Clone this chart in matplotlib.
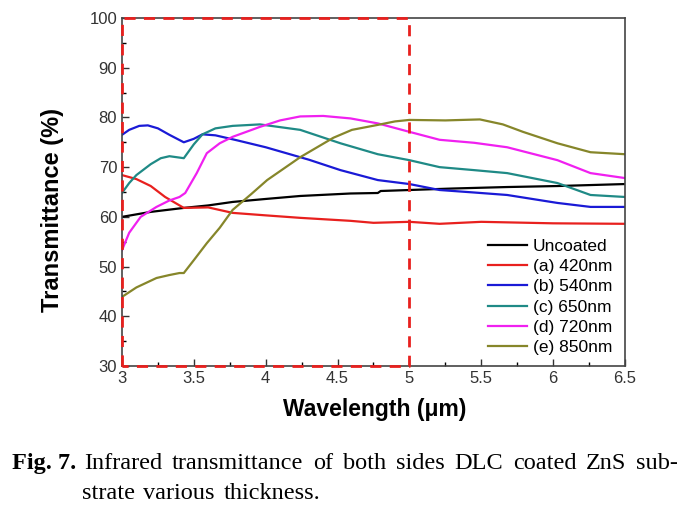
import matplotlib
matplotlib.use("Agg")
import matplotlib.pyplot as plt
from matplotlib.ticker import MultipleLocator

# ---- data ----
wl_uncoated = [3.0, 3.2, 3.43, 3.6, 3.77, 4.0, 4.24, 4.59, 4.78, 4.80, 5.0, 5.3, 5.68, 6.03, 6.5]
t_uncoated = [60.0, 61.0, 61.8, 62.3, 63.0, 63.6, 64.2, 64.7, 64.8, 65.2, 65.4, 65.7, 66.0, 66.2, 66.6]

wl_a = [3.0, 3.1, 3.2, 3.3, 3.43, 3.6, 3.77, 4.0, 4.24, 4.59, 4.75, 5.0, 5.21, 5.5, 6.0, 6.5]
t_a = [68.4, 67.6, 66.2, 64.0, 61.8, 61.9, 60.8, 60.3, 59.8, 59.2, 58.8, 59.0, 58.6, 59.0, 58.7, 58.6]

wl_b = [3.0, 3.05, 3.12, 3.18, 3.25, 3.33, 3.43, 3.5, 3.56, 3.65, 3.8, 4.0, 4.3, 4.52, 4.78, 5.0, 5.21, 5.45, 5.68, 6.03, 6.26, 6.5]
t_b = [76.5, 77.5, 78.3, 78.4, 77.8, 76.5, 75.0, 75.7, 76.6, 76.4, 75.4, 74.0, 71.5, 69.4, 67.4, 66.6, 65.4, 64.9, 64.4, 62.8, 62.0, 62.0]

wl_c = [3.0, 3.05, 3.1, 3.2, 3.27, 3.33, 3.43, 3.5, 3.56, 3.65, 3.77, 3.96, 4.24, 4.52, 4.78, 5.0, 5.21, 5.45, 5.68, 6.03, 6.26, 6.5]
t_c = [64.8, 66.8, 68.4, 70.6, 71.8, 72.2, 71.8, 74.6, 76.6, 77.8, 78.3, 78.6, 77.5, 74.8, 72.6, 71.4, 70.0, 69.4, 68.8, 66.8, 64.4, 64.0]

wl_d = [3.0, 3.05, 3.13, 3.24, 3.33, 3.4, 3.44, 3.52, 3.59, 3.68, 3.77, 3.96, 4.1, 4.24, 4.4, 4.59, 4.78, 5.0, 5.21, 5.45, 5.68, 6.03, 6.26, 6.5]
t_d = [53.3, 56.8, 60.0, 62.0, 63.3, 64.0, 64.8, 68.8, 72.8, 74.8, 76.1, 78.1, 79.4, 80.2, 80.3, 79.8, 78.8, 77.1, 75.5, 74.9, 74.0, 71.4, 68.8, 67.8]

wl_e = [3.0, 3.1, 3.24, 3.33, 3.40, 3.43, 3.5, 3.59, 3.68, 3.77, 3.9, 4.01, 4.24, 4.47, 4.6, 4.78, 4.9, 5.0, 5.25, 5.49, 5.65, 5.79, 6.03, 6.26, 6.5]
t_e = [43.9, 45.8, 47.7, 48.3, 48.7, 48.7, 51.3, 54.7, 57.8, 61.4, 64.6, 67.4, 72.0, 75.9, 77.5, 78.5, 79.2, 79.5, 79.4, 79.6, 78.6, 77.1, 74.8, 73.0, 72.6]

labels = ["Uncoated", "(a) 420nm", "(b) 540nm", "(c) 650nm", "(d) 720nm", "(e) 850nm"]
colors = ["#000000", "#e8201e", "#1a1ad6", "#1f8a86", "#f020f0", "#86862a"]
series = [(wl_uncoated, t_uncoated), (wl_a, t_a), (wl_b, t_b),
          (wl_c, t_c), (wl_d, t_d), (wl_e, t_e)]

xticks = [3, 3.5, 4, 4.5, 5, 5.5, 6, 6.5]
xticklabels = ["3", "3.5", "4", "4.5", "5", "5.5", "6", "6.5"]
yticks = [30, 40, 50, 60, 70, 80, 90, 100]

caption_label = "Fig. 7."
caption_line1 = "Infrared transmittance of both sides DLC coated ZnS sub-"
caption_line2 = "strate various thickness."

W, H = 694, 511

# ---- figure ----
fig = plt.figure(figsize=(W/100, H/100), dpi=100)
ax = fig.add_axes([122/W, 1-366/H, (625-122)/W, (366-18)/H])

for (x, y), c, lab in zip(series, colors, labels):
    ax.plot(x, y, color=c, lw=1.6, label=lab)

ax.set_xlim(3, 6.5)
ax.set_ylim(30, 100)
ax.set_xticks(xticks)
ax.set_xticklabels(xticklabels)
ax.set_yticks(yticks)
ax.xaxis.set_minor_locator(MultipleLocator(0.25))
ax.yaxis.set_minor_locator(MultipleLocator(5))
ax.tick_params(which="both", direction="in", top=False, right=False)
ax.tick_params(which="major", length=5, width=1, labelsize=12, colors="#333333")
ax.tick_params(which="minor", length=3, width=1)
for lab in ax.get_xticklabels() + ax.get_yticklabels():
    lab.set_fontfamily("Liberation Sans")
for s in ax.spines.values():
    s.set_color("#444444")
    s.set_linewidth(1.2)

# red dashed region
ax.plot([3, 3, 5, 5, 3], [30, 100, 100, 30, 30], color="#e8201e", lw=2,
        ls=(0, (4, 3)), clip_on=False, zorder=5)

ax.set_xlabel("Wavelength (\u03bcm)", fontsize=16.5, fontweight="bold",
              family="Liberation Sans")
ax.xaxis.set_label_coords((375-122)/(625-122), -(398-366)/(366-18))
ax.set_ylabel("Transmittance (%)", fontsize=17, fontweight="bold",
              family="Liberation Sans")
ax.yaxis.set_label_coords(-(122-64)/(625-122), (366-210)/(366-18))

leg = ax.legend(loc="lower right", frameon=False,
                prop={"family": "Liberation Sans", "size": 12.5},
                handlelength=2.3, handletextpad=0.3, labelspacing=0.29,
                borderaxespad=0.0,
                bbox_to_anchor=((619-122)/(625-122), (366-362)/(366-18)))

# caption
fig.canvas.draw()
renderer = fig.canvas.get_renderer()
cap_fs = 17.5
fig.text(12/W, 1-463/H, caption_label, fontsize=cap_fs, fontweight="bold",
         family="Liberation Serif", va="center")


def spread(words, x0, x1, yc):
    arts = [fig.text(0, 1-yc/H, w, fontsize=cap_fs, family="Liberation Serif",
                     va="center") for w in words]
    widths = [a.get_window_extent(renderer).width for a in arts]
    gap = (x1 - x0 - sum(widths)) / (len(words) - 1)
    x = x0
    for a, w in zip(arts, widths):
        a.set_x(x / W)
        x += w + gap


spread(caption_line1.split(), 84, 678, 463)
spread(caption_line2.split(), 82, 320, 493)

fig.savefig("out.png", dpi=100)
